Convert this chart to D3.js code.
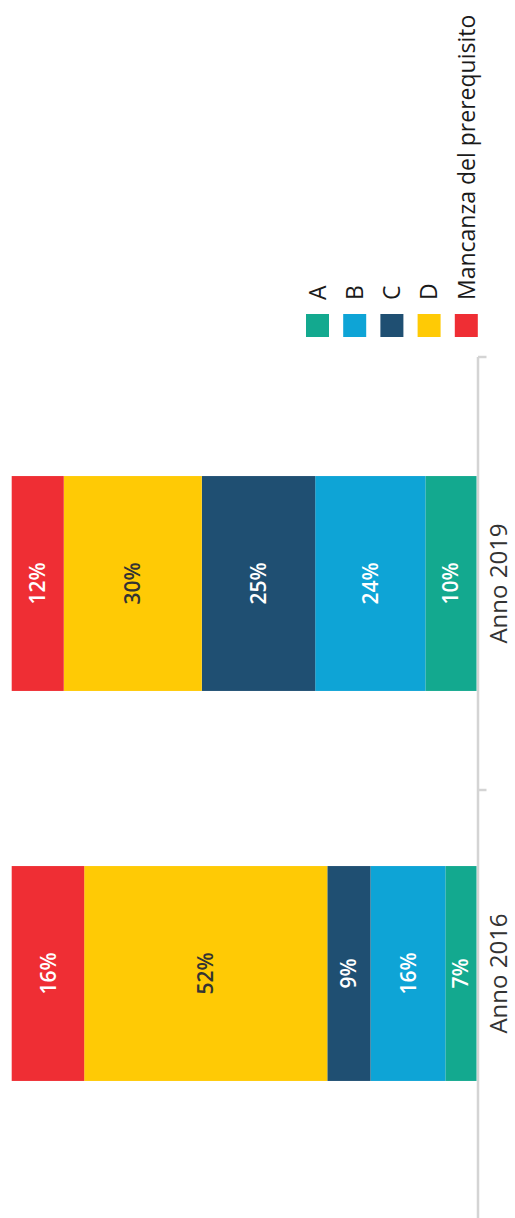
<!DOCTYPE html>
<html>
<head>
<meta charset="utf-8">
<script src="https://cdnjs.cloudflare.com/ajax/libs/d3/7.8.5/d3.min.js"></script>
<style>
    html, body { margin: 0; padding: 0; background: #fff; }
    svg { display: block; font-family: "Open Sans", sans-serif; }
    .axisLine { stroke: #d4d4d4; stroke-width: 2.5; fill: none; }
    .yearLabel { fill: #333; font-size: 24px; }
    .legendText { fill: #1a1a1a; font-size: 23px; }
    .segLabel { font-size: 21px; font-weight: 600; }
</style>
</head>
<body>
<div id="chart"></div>
<script>
// categories (top to bottom on screen) and stacked series
var years = ["Anno 2019", "Anno 2016"];
var series = ["A", "B", "C", "D", "Mancanza del prerequisito"];

// share of each series per year, as drawn (percent)
var values2019 = [11.0, 23.7, 24.4, 29.7, 11.2];
var values2016 = [6.7, 16.1, 9.3, 52.3, 15.6];

// printed labels on the segments
var labels2019 = ["10%", "24%", "25%", "30%", "12%"];
var labels2016 = ["7%", "16%", "9%", "52%", "16%"];

var colors = ["#13a98f", "#0ea4d6", "#1f4f72", "#ffca05", "#ef2e34"];

var width = 515,
    height = 1218;

var svg = d3.select("#chart").append("svg")
    .attr("width", width)
    .attr("height", height);

// build table for d3.stack
var rows = years.map(function (y, i) {
    var vals = i === 0 ? values2019 : values2016;
    var labs = i === 0 ? labels2019 : labels2016;
    var row = {year: y, labels: {}};
    series.forEach(function (s, j) {
        row[s] = vals[j];
        row.labels[s] = labs[j];
    });
    return row;
});

var stacked = d3.stack().keys(series)(rows);

// value axis runs right (0) to left (100), the chart is turned on its side
var x = d3.scaleLinear()
    .domain([0, 100])
    .range([476.5, 11.7]);

var y = d3.scaleBand()
    .domain(years)
    .range([388.5, 1168.5])
    .paddingInner(0.449)
    .paddingOuter(0.2245);

// axis ticks sit at category boundaries
var yTicks = d3.scaleBand()
    .domain(years)
    .range([357, 1223]);

var color = d3.scaleOrdinal()
    .domain(series)
    .range(colors);

/* AXIS */
var axis = svg.append("g").classed("axis", true);

axis.append("line")
    .classed("axisLine", true)
    .attr("x1", x(0) + 1.5)
    .attr("x2", x(0) + 1.5)
    .attr("y1", yTicks.range()[0])
    .attr("y2", yTicks.range()[1]);

axis.selectAll("line.tick")
    .data(years)
    .enter()
    .append("line")
    .classed("axisLine tick", true)
    .attr("x1", x(0) + 1.5)
    .attr("x2", x(0) + 10)
    .attr("y1", function (d) { return yTicks(d); })
    .attr("y2", function (d) { return yTicks(d); });

axis.selectAll("text")
    .data(years)
    .enter()
    .append("text")
    .classed("yearLabel", true)
    .attr("text-anchor", "middle")
    .attr("transform", function (d) {
        return "translate(507," + (y(d) + y.bandwidth() / 2) + ") rotate(-90)";
    })
    .text(function (d) { return d; });

/* BARS */
var layer = svg.append("g")
    .selectAll("g.layer")
    .data(stacked)
    .enter()
    .append("g")
    .classed("layer", true)
    .attr("fill", function (d) { return color(d.key); });

layer.selectAll("rect")
    .data(function (d) { return d; })
    .enter()
    .append("rect")
    .attr("x", function (d) { return x(d[1]); })
    .attr("y", function (d) { return y(d.data.year); })
    .attr("width", function (d) { return x(d[0]) - x(d[1]); })
    .attr("height", y.bandwidth());

// segment labels
svg.append("g")
    .selectAll("g.labels")
    .data(stacked)
    .enter()
    .append("g")
    .each(function (s) {
        d3.select(this).selectAll("text")
            .data(s)
            .enter()
            .append("text")
            .classed("segLabel", true)
            .attr("text-anchor", "middle")
            .attr("dy", "0.36em")
            .attr("fill", s.key === "D" ? "#333" : "#fff")
            .attr("transform", function (d) {
                var cx = (x(d[0]) + x(d[1])) / 2,
                    cy = y(d.data.year) + y.bandwidth() / 2;
                return "translate(" + cx + "," + cy + ") rotate(-90)";
            })
            .text(function (d) { return d.data.labels[s.key]; });
    });

/* LEGEND */
var legendStep = 37.2,
    legendSize = 23;

var legend = svg.append("g")
    .classed("legend", true)
    .selectAll("g")
    .data(series)
    .enter()
    .append("g")
    .attr("transform", function (d, i) {
        return "translate(" + (306 + i * legendStep) + ",314)";
    });

legend.append("rect")
    .attr("width", legendSize)
    .attr("height", legendSize)
    .attr("fill", function (d) { return color(d); });

legend.append("text")
    .classed("legendText", true)
    .attr("dy", "0.36em")
    .attr("transform", "translate(" + (legendSize / 2) + ",-14) rotate(-90)")
    .text(function (d) { return d; });
</script>
</body>
</html>
